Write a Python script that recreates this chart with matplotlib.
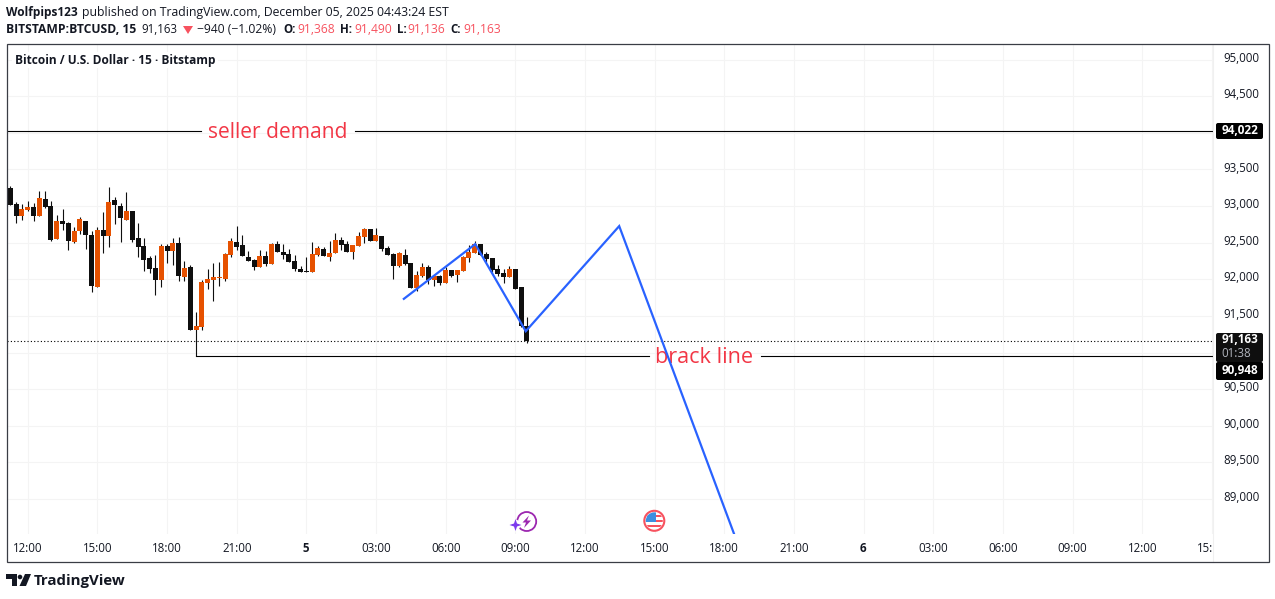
import matplotlib
matplotlib.use("Agg")
import matplotlib.pyplot as plt
from matplotlib.patches import Circle, FancyBboxPatch, Rectangle, Polygon

# ---------- data ----------
opens = [93245,93027,92867,92945,92986,92867,93095,92999,92553,92795,92767,92512,92658,92795,92603,91898,92672,92594,93081,92999,
         92813,92931,92562,92453,92289,92153,91993,92453,92389,92494,92034,92166,91311,91352,91948,91989,92016,92002,92330,92508,
         92467,92303,92262,92171,92317,92212,92480,92371,92344,92249,92139,92112,92098,92330,92412,92303,92358,92535,92481,92371,
         92453,92576,92686,92522,92590,92426,92344,92180,92330,92221,91880,92044,92167,91989,92044,91948,92126,92057,92112,92290,
         92358,92481,92344,92290,92139,92085,92030,92139,91893,91368]
highs = [93272,93054,93027,93068,93040,93204,93204,93068,92876,92958,92781,92713,92849,92795,92658,92713,92917,93259,93122,93040,
         93191,92931,92767,92562,92317,92330,92480,92480,92562,92576,92248,92194,91552,91989,92139,92221,92235,92358,92562,92726,
         92603,92385,92276,92399,92385,92494,92521,92481,92412,92330,92180,92303,92508,92453,92440,92522,92631,92576,92522,92467,
         92645,92699,92686,92699,92590,92453,92358,92371,92412,92221,92112,92221,92194,92057,92057,92167,92126,92126,92317,92467,
         92522,92481,92371,92290,92194,92139,92180,92139,91893,91490]
lows = [93018,92772,92808,92931,92799,92867,92972,92526,92553,92676,92403,92499,92622,92417,91829,91898,92362,92444,92758,92512,
        92813,92512,92307,92116,92089,91789,91898,92226,92198,91980,91980,91311,90948,91311,91870,91707,91911,91980,92307,92403,
        92321,92253,92130,92171,92185,92212,92376,92276,92235,92112,92098,92098,92098,92317,92317,92249,92358,92399,92371,92276,
        92453,92494,92522,92522,92385,92330,92003,92167,92194,91880,91839,92030,91934,91907,91921,91948,92030,91962,92112,92235,
        92358,92330,92235,92098,92044,91948,92030,91866,91347,91136]
closes = [93018,92867,92958,92986,92867,93109,92986,92540,92795,92754,92526,92658,92822,92608,91911,92672,92594,93054,93018,92840,
          92931,92540,92444,92267,92144,91993,92453,92389,92494,92048,92153,91311,91361,91962,92002,92030,92030,92344,92521,92444,
          92321,92253,92171,92317,92212,92480,92376,92330,92235,92139,92098,92103,92344,92426,92317,92358,92535,92467,92371,92467,
          92590,92686,92522,92604,92412,92330,92180,92358,92208,91880,92057,92167,91989,92044,91948,92126,92044,92126,92303,92371,
          92481,92330,92276,92126,92071,92030,92139,91866,91361,91163]

path_bars = [67.8, 80.1, 88.8, 104.9, 125.7]
path_prices = [91733, 92480, 91291, 92726, 88310]

seller_level = 94022
break_level = 90948
break_start_bar = 32
last_price = 91163

price_ticks = [89000, 89500, 90000, 90500, 91000, 91500, 92000, 92500, 93000, 93500, 94000, 94500, 95000]
hidden_price_labels = [91000, 94000]
time_labels = ["12:00","15:00","18:00","21:00","5","03:00","06:00","09:00","12:00","15:00","18:00","21:00",
               "6","03:00","06:00","09:00","12:00","15:"]
time_bars = [3,15,27,39,51,63,75,87,99,111,123,135,147,159,171,183,195,207]

# ---------- style ----------
UP, DOWN = "#e65100", "#0f0f0f"
RED = "#f23645"
BLUE = "#2962ff"
GRID = "#f4f4f4"
INK = "#131722"
plt.rcParams["font.family"] = ["Open Sans", "DejaVu Sans"]

W, H = 1275, 599
fig = plt.figure(figsize=(W/100, H/100), dpi=100, facecolor="white")

def box(l, t, r, b):
    return [l/W, 1-b/H, (r-l)/W, (b-t)/H]

XMIN, XMAX = -0.57, 207.2
ax = fig.add_axes(box(7, 45, 1213, 534), zorder=1)
ax.set_xlim(XMIN, XMAX)
ax.set_ylim(88523, 95198)
for s in ax.spines.values():
    s.set_visible(False)
ax.tick_params(length=0, labelleft=False, labelbottom=False)
ax.set_xticks(time_bars)
ax.set_yticks(price_ticks)
ax.grid(True, color=GRID, lw=0.8)
ax.set_axisbelow(True)

# pixel layer above the plot for the chart's chrome
bg = fig.add_axes([0, 0, 1, 1], zorder=2)
bg.set_xlim(0, W); bg.set_ylim(H, 0); bg.axis("off")

# candles
for i, (o, h, l, c) in enumerate(zip(opens, highs, lows, closes)):
    col = UP if c >= o else DOWN
    ax.vlines(i, l, h, color=DOWN, lw=0.8, zorder=3)
    ax.bar(i, max(abs(c-o), 8), bottom=min(o, c), width=0.86, color=col, lw=0, zorder=4)

# levels, each with a gap for its label
ax.plot([XMIN, 32.8], [seller_level]*2, color="black", lw=0.8, zorder=5)
ax.plot([59.3, XMAX], [seller_level]*2, color="black", lw=0.8, zorder=5)
ax.plot([break_start_bar, 110.0], [break_level]*2, color="black", lw=0.8, zorder=5)
ax.plot([129.3, XMAX], [break_level]*2, color="black", lw=0.8, zorder=5)
ax.plot([XMIN, XMAX], [last_price]*2, color="black", lw=0.8, ls=(0, (1, 2)), zorder=2)

ax.annotate("seller demand", (34.0, seller_level), xytext=(0, -1), textcoords="offset points",
            color=RED, fontsize=15.1, va="center", ha="left", zorder=6)
ax.annotate("brack line", (111.1, break_level), xytext=(0, -0.5), textcoords="offset points",
            color=RED, fontsize=15.6, va="center", ha="left", zorder=6)

# drawn path
ax.plot(path_bars, path_prices, color=BLUE, lw=1.6, zorder=7, solid_joinstyle="miter")

# price labels
for p in price_ticks:
    if p not in hidden_price_labels:
        y = 59.5 + (95000-p)/13.66 - 1.2
        bg.text(1241, y, f"{p:,}", fontsize=8.3, color=INK, ha="center", va="center")

def tag(y0, y1, txt, yc, face="black"):
    bg.add_patch(FancyBboxPatch((1216, y0), 47, y1-y0, boxstyle="round,pad=0,rounding_size=2", fc=face, ec="none", zorder=3))
    bg.text(1240, yc, txt, color="white", fontsize=8.5, fontweight="bold", ha="center", va="center", zorder=4)

tag(123, 139, f"{seller_level:,}", 131)
tag(333, 362, f"{last_price:,}", 339.5, face="#0f0f0f")
bg.text(1236, 353.5, "01:38", color="#b2b5be", fontsize=8.3, ha="center", va="center", zorder=4)
tag(362, 380, f"{break_level:,}", 370.5)

# time labels
for b, t in zip(time_bars, time_labels):
    x = 10.3 + 5.805*b
    weight = "bold" if t in ("5", "6") else "normal"
    if t == "15:":
        bg.text(1197, 548, t, fontsize=8.3, color=INK, ha="left", va="center")
    else:
        bg.text(x - 1 if weight == "bold" else x, 548, t, fontsize=8.3, color=INK, ha="center", va="center", fontweight=weight)

# frame
bg.add_patch(Rectangle((6.5, 44), 1262, 518, fc="none", ec="#3a3d45", lw=0.9, zorder=5))
bg.plot([1213, 1213], [45, 562], color="#f0f0f0", lw=0.8, zorder=0)

# header
bg.text(6, 12.5, "Wolfpips123", fontsize=8.6, fontweight="bold", color=INK, va="center")
bg.text(82, 12.5, "published on TradingView.com, December 05, 2025 04:43:24 EST", fontsize=8.8, color=INK, va="center")
bg.text(6, 29.5, "BITSTAMP:BTCUSD, 15", fontsize=8.75, fontweight="bold", color=INK, va="center")
bg.text(141, 29.5, "91,163", fontsize=8.3, color=INK, va="center")
bg.add_patch(Polygon([[183, 26], [193, 26], [188, 34]], fc="#f7525f", ec="none"))
bg.text(197, 29.5, "\u2212940 (\u22121.02%)", fontsize=8.7, color=INK, va="center")
for x, lab, vx, val in [(283, "O:", 297, "91,368"), (340, "H:", 354, "91,490"), (397, "L:", 407, "91,136"), (450, "C:", 463, "91,163")]:
    bg.text(x, 29.5, lab, fontsize=8.3, fontweight="bold", color=INK, va="center")
    bg.text(vx, 29.5, val, fontsize=8.7, color="#f7525f", va="center")
bg.add_patch(Rectangle((12, 52), 206, 16, fc="white", ec="none", zorder=1))
bg.text(15, 60.5, "Bitcoin / U.S. Dollar \u00b7 15 \u00b7 Bitstamp", fontsize=8.55, fontweight="bold", color=INK, va="center", zorder=2)

# event icons
bg.add_patch(Circle((526.7, 521.5), 9.5, fc="white", ec="#9c27b0", lw=1.3, zorder=3))
bg.add_patch(Polygon([[529, 515.5], [522.5, 522.5], [526, 522.5], [524, 528], [531, 520.5], [527, 520.5]], fc="#9c27b0", ec="none", zorder=4))
bg.add_patch(Circle((515, 525), 5.5, fc="white", ec="none", zorder=4))
bg.add_patch(Polygon([[515.5, 519], [517, 523.5], [521.5, 525], [517, 526.5], [515.5, 531], [514, 526.5], [509.5, 525], [514, 523.5]],
                     fc="#7c3aed", ec="none", zorder=5))
flag = Circle((654.3, 520.8), 10, fc="white", ec="#f7525f", lw=1.5, zorder=3)
bg.add_patch(flag)
for y in (514.5, 519.5, 524.5):
    s = Rectangle((644, y), 21, 2.6, fc="#f7525f", ec="none", zorder=4)
    bg.add_patch(s); s.set_clip_path(Circle((654.3, 520.8), 8.5, transform=bg.transData))
c = Rectangle((644, 512), 11.5, 9.5, fc="#3d8fe0", ec="none", zorder=5)
bg.add_patch(c); c.set_clip_path(Circle((654.3, 520.8), 8.5, transform=bg.transData))

# logo
bg.add_patch(Polygon([[6, 574], [17, 574], [17, 586], [12, 586], [12, 579], [6, 579]], fc=INK, ec="none"))
bg.add_patch(Circle((20, 577), 2.3, fc=INK, ec="none"))
bg.add_patch(Polygon([[25, 574], [31, 574], [26, 586], [19.5, 586]], fc=INK, ec="none"))
bg.text(34, 580.5, "TradingView", fontsize=10.8, fontweight="bold", color=INK, va="center")

fig.savefig("out.png", dpi=100)
